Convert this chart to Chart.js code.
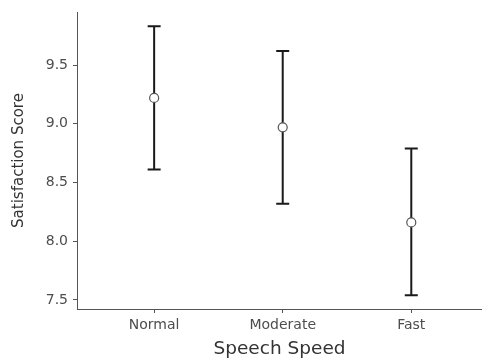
<!DOCTYPE html>
<html>
<head>
<meta charset="utf-8">
<script src="https://cdn.jsdelivr.net/npm/chart.js@4"></script>
<style>
  html, body { margin: 0; padding: 0; background: #fff; }
  #chartCanvas { display: block; }
</style>
</head>
<body>
<canvas id="chartCanvas" width="482" height="358"></canvas>
<script>
const categories = ["Normal", "Moderate", "Fast"];
const means = [9.22, 8.97, 8.16];
const lower = [8.61, 8.32, 7.54];
const upper = [9.83, 9.62, 8.79];
const yTicks = [7.5, 8.0, 8.5, 9.0, 9.5];

// error bars drawn through the chart scales, under the points
const errorBars = {
    id: "errorBars",
    beforeDatasetsDraw(chart) {
        const { ctx, scales: { x, y } } = chart;
        ctx.save();
        ctx.strokeStyle = "#1a1a1a";
        ctx.lineWidth = 2;
        categories.forEach((c, i) => {
            const px = x.getPixelForValue(i + 1);
            const top = y.getPixelForValue(upper[i]);
            const bot = y.getPixelForValue(lower[i]);
            ctx.beginPath();
            ctx.moveTo(px, top);
            ctx.lineTo(px, bot);
            ctx.moveTo(px - 6.5, top);
            ctx.lineTo(px + 6.5, top);
            ctx.moveTo(px - 6.5, bot);
            ctx.lineTo(px + 6.5, bot);
            ctx.stroke();
        });
        ctx.restore();
    }
};

const tickFont = { family: "'DejaVu Sans'", size: 14 };

new Chart(document.getElementById("chartCanvas"), {
    type: "scatter",
    data: {
        datasets: [{
            data: means.map((m, i) => ({ x: i + 1, y: m })),
            pointRadius: 4.5,
            pointBackgroundColor: "#fff",
            pointBorderColor: "#555",
            pointBorderWidth: 1.2
        }]
    },
    options: {
        responsive: false,
        animation: false,
        layout: { autoPadding: false, padding: { top: 12, left: 0, right: 0, bottom: 0 } },
        plugins: {
            legend: { display: false },
            tooltip: { enabled: false }
        },
        scales: {
            x: {
                type: "linear",
                min: 0.4,
                max: 3.55,
                afterBuildTicks: s => { s.ticks = categories.map((c, i) => ({ value: i + 1 })); },
                afterFit: s => {
                    s.height = 49;
                    s.paddingLeft = 0;
                    s.paddingRight = 0;
                },
                ticks: {
                    callback: v => categories[v - 1],
                    color: "#4d4d4d",
                    font: tickFont,
                    padding: 4,
                    maxRotation: 0
                },
                grid: { drawOnChartArea: false, tickLength: 4, tickColor: "#555", tickWidth: 1 },
                border: { color: "#555", width: 1 },
                title: {
                    display: true,
                    text: "Speech Speed",
                    color: "#333",
                    font: { family: "'DejaVu Sans'", size: 18.5 },
                    padding: { top: 0, bottom: -2 }
                }
            },
            y: {
                min: 7.423,
                max: 9.952,
                afterBuildTicks: s => { s.ticks = yTicks.map(v => ({ value: v })); },
                afterFit: s => {
                    s.width = 77;
                    s.paddingTop = 0;
                    s.paddingBottom = 0;
                },
                ticks: {
                    callback: v => v.toFixed(1),
                    color: "#4d4d4d",
                    font: tickFont,
                    padding: 5
                },
                grid: { drawOnChartArea: false, tickLength: 4, tickColor: "#555", tickWidth: 1 },
                border: { color: "#555", width: 1 },
                title: {
                    display: true,
                    text: "Satisfaction Score",
                    color: "#333",
                    font: { family: "'DejaVu Sans'", size: 15 },
                    padding: { top: 10, bottom: 0 }
                }
            }
        }
    },
    plugins: [errorBars]
});
</script>
</body>
</html>
